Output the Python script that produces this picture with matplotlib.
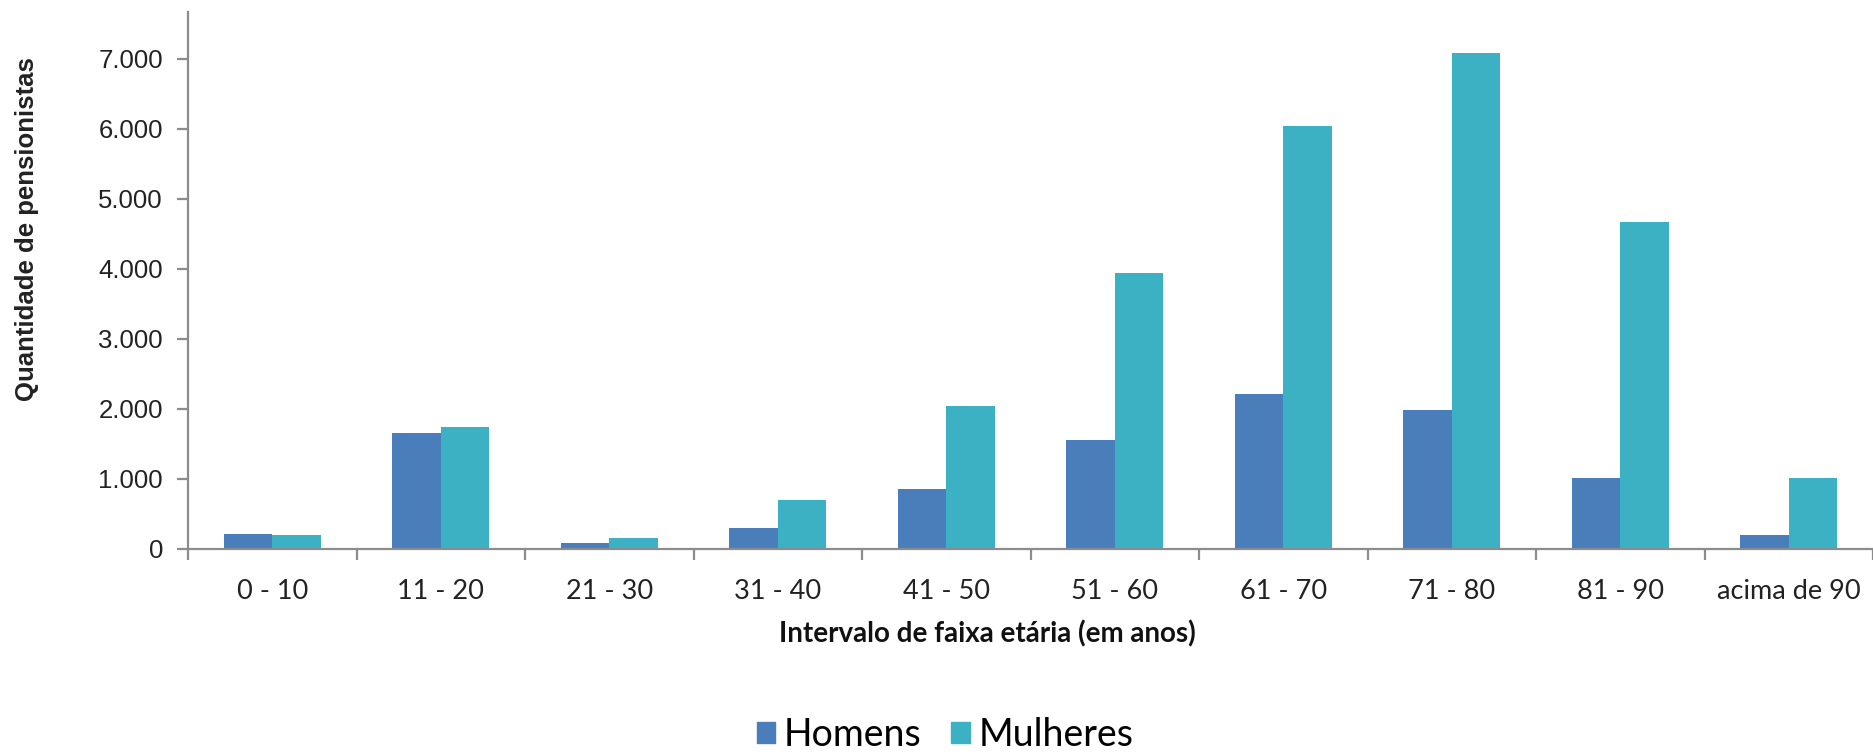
import numpy as np
import matplotlib
matplotlib.use('Agg')
import matplotlib.pyplot as plt
from matplotlib.patches import Patch
from matplotlib.ticker import FixedLocator, FuncFormatter

# dados
faixas = ['0 - 10', '11 - 20', '21 - 30', '31 - 40', '41 - 50',
          '51 - 60', '61 - 70', '71 - 80', '81 - 90', 'acima de 90']
homens = [210, 1650, 90, 300, 850, 1550, 2220, 1990, 1020, 200]
mulheres = [200, 1740, 150, 700, 2040, 3940, 6040, 7090, 4670, 1010]
yticks = [0, 1000, 2000, 3000, 4000, 5000, 6000, 7000]

c_h = '#4a7ebb'
c_m = '#3cb1c3'
grey = '#8c8c8c'

fig = plt.figure(figsize=(18.73, 7.54), dpi=100)
ax = fig.add_axes([188/1873, 205/754, 1685/1873, 537/754])

x = np.arange(len(faixas))
w = 0.288
ax.bar(x - w/2, homens, w, color=c_h, zorder=2)
ax.bar(x + w/2, mulheres, w, color=c_m, zorder=2)

ax.set_xlim(-0.5, len(faixas) - 0.5)
ax.set_ylim(0, 7670)

for s in ['top', 'right']:
    ax.spines[s].set_visible(False)
for s in ['left', 'bottom']:
    ax.spines[s].set_color(grey)
    ax.spines[s].set_linewidth(1.6)

# ticks de categoria nas fronteiras, rotulos no centro
ax.xaxis.set_major_locator(FixedLocator(np.arange(-0.5, len(faixas), 1.0)))
ax.set_xticklabels([''] * (len(faixas) + 1))
ax.set_xticks(x, minor=True)
ax.set_xticklabels(faixas, minor=True, fontsize=19.5, family='Lato', color='#222222')
ax.tick_params(axis='x', which='major', length=8, width=1.6, color=grey, direction='out')
ax.tick_params(axis='x', which='minor', length=0, pad=21.5)

ax.set_yticks(yticks)
ax.yaxis.set_major_formatter(FuncFormatter(lambda v, p: '{:,.0f}'.format(v).replace(',', '.')))
ax.tick_params(axis='y', length=8, width=1.6, color=grey, pad=10)
plt.setp(ax.get_yticklabels(), fontsize=18.5, family='Liberation Sans', color='#222222')

fig.text(27/1873, 1 - 229/754, 'Quantidade de pensionistas', rotation=90,
         ha='center', va='center', fontsize=18.5, fontweight='bold',
         family='Liberation Sans', color='#222222')
fig.text(987/1873, 1 - 634/754, 'Intervalo de faixa etária (em anos)',
         ha='center', va='center', fontsize=20, fontweight='bold',
         family='Lato', color='#111111')

handles = [Patch(color=c_h, label='Homens'), Patch(color=c_m, label='Mulheres')]
fig.legend(handles=handles, loc='center', bbox_to_anchor=(945/1873, 19/754), ncol=2,
           frameon=False, prop={'family': 'Lato', 'size': 27},
           handlelength=0.5, handleheight=0.5, handletextpad=0.22, columnspacing=0.8)

plt.savefig('out.png', dpi=100)
